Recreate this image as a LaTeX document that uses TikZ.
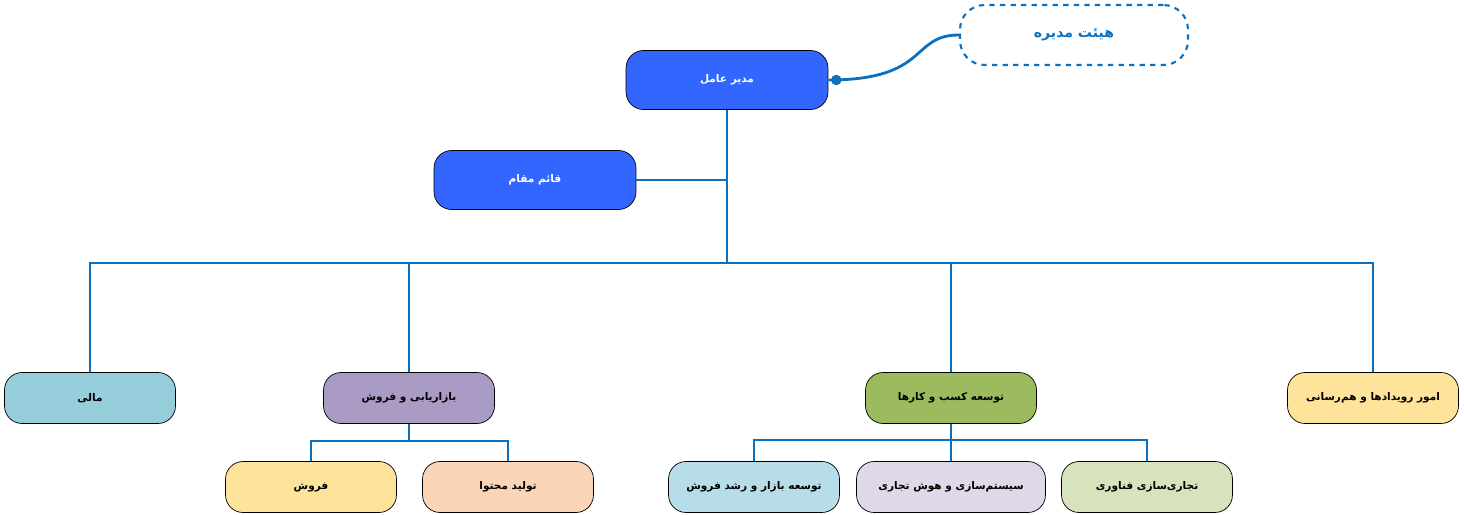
\documentclass[tikz,border=0pt]{standalone}
\usepackage{fontspec}
\newfontfamily\fa[Script=Arabic]{DejaVu Sans}
\TeXXeTstate=1
\newcommand{\rtl}[1]{\beginR #1\endR}
\definecolor{linkblue}{HTML}{0B70C0}
\definecolor{headblue}{HTML}{3366FF}
\definecolor{cmali}{HTML}{96CDDB}
\definecolor{cmarket}{HTML}{A99BC3}
\definecolor{cbiz}{HTML}{9BBB5E}
\definecolor{cyellow}{HTML}{FEE49A}
\definecolor{cpeach}{HTML}{FBD5B5}
\definecolor{clblue}{HTML}{B7DDE8}
\definecolor{clilac}{HTML}{DFD8E8}
\definecolor{clgreen}{HTML}{D7E3BC}
\usetikzlibrary{calc}
\begin{document}
\begin{tikzpicture}[x=0.02cm, y=-0.02cm,
  box/.style={draw, rounded corners=10pt, minimum width=3.42cm, minimum height=1.02cm,
    font=\fa\fontsize{6}{7}\selectfont\bfseries},
  head/.style={box, fill=headblue, text=white, minimum width=4.04cm, minimum height=1.18cm},
  link/.style={draw=linkblue, line width=1.6pt}]
  \useasboundingbox (0,0) rectangle (1464,514);
  % Top level
  \node[head] (ceo) at (727,80) {\rtl{مدیر عامل}};
  \node[head] (deputy) at (535,180) {\rtl{قائم مقام}};
  \node[draw=linkblue, dashed, line width=1.2pt, rounded corners=14pt, minimum width=4.56cm,
    minimum height=1.2cm, text=linkblue, font=\fa\fontsize{8}{9}\selectfont\bfseries]
    (board) at (1074,35) {\rtl{هیئت مدیره}};
  % Departments
  \node[box, fill=cmali] (mali) at (90,398) {\rtl{مالی}};
  \node[box, fill=cmarket] (market) at (409,398) {\rtl{بازاریابی و فروش}};
  \node[box, fill=cbiz] (biz) at (951,398) {\rtl{توسعه کسب و کارها}};
  \node[box, fill=cyellow] (events) at (1373,398) {\rtl{امور رویدادها و هم‌رسانی}};
  % Units
  \node[box, fill=cyellow] (sales) at (311,487) {\rtl{فروش}};
  \node[box, fill=cpeach] (content) at (508,487) {\rtl{تولید محتوا}};
  \node[box, fill=clblue] (mdev) at (754,487) {\rtl{توسعه بازار و رشد فروش}};
  \node[box, fill=clilac, minimum width=3.78cm] (bi) at (951,487) {\rtl{سیستم‌سازی و هوش تجاری}};
  \node[box, fill=clgreen] (tech) at (1147,487) {\rtl{تجاری‌سازی فناوری}};
  % Connectors
  \coordinate (bus) at (727,263);
  \coordinate (mbus) at (409,441);
  \coordinate (bbus) at (951,440);
  \draw[link] (ceo) -- (bus);
  \draw[link] (deputy) -- (deputy -| bus);
  \foreach \d in {mali, market, biz, events} {
    \draw[link] (bus) -| (\d);
  }
  \draw[link] (market) -- (mbus);
  \foreach \u in {sales, content} {
    \draw[link] (mbus) -| (\u);
  }
  \draw[link] (biz) -- (bbus);
  \foreach \u in {mdev, bi, tech} {
    \draw[link] (bbus) -| (\u);
  }
  \draw[link] (ceo.east) .. controls (930,80) and (910,35) .. (board.west);
  \fill[linkblue] (ceo.east) ++(8,0) circle (3pt);
\end{tikzpicture}
\end{document}
